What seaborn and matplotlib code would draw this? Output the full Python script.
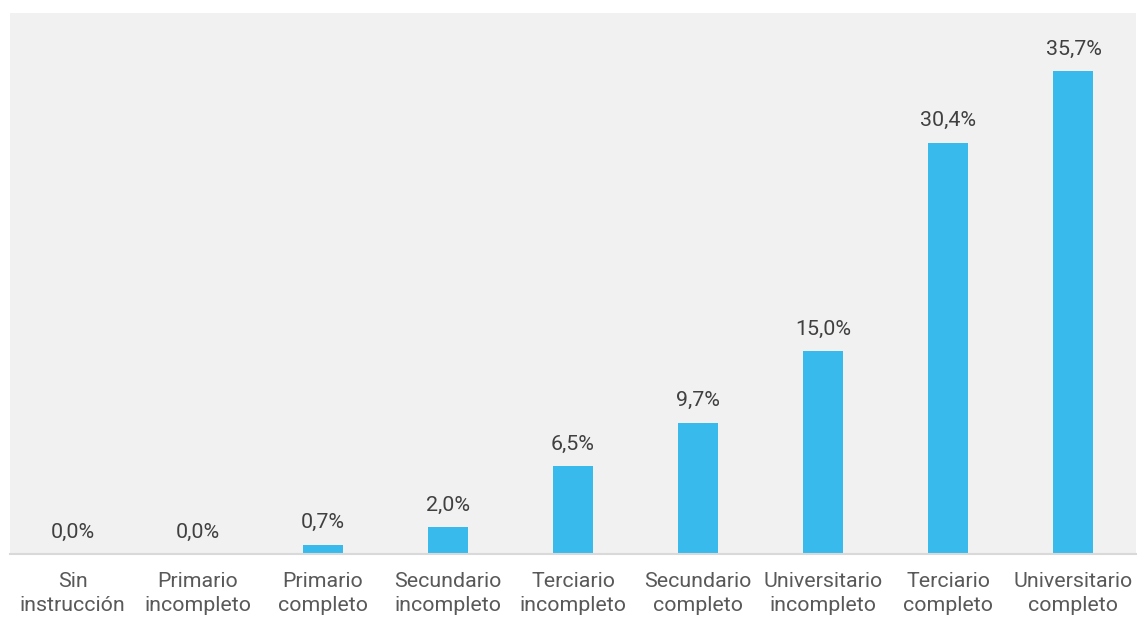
import matplotlib
matplotlib.use("Agg")
import matplotlib.pyplot as plt
import seaborn as sns
import pandas as pd

categories = [
    "Sin\ninstrucción", "Primario\nincompleto", "Primario\ncompleto",
    "Secundario\nincompleto", "Terciario\nincompleto", "Secundario\ncompleto",
    "Universitario\nincompleto", "Terciario\ncompleto", "Universitario\ncompleto",
]
values = [0.0, 0.0, 0.7, 2.0, 6.5, 9.7, 15.0, 30.4, 35.7]

df = pd.DataFrame({"nivel": categories, "pct": values})

sns.set_theme(style="white")
plt.rcParams["font.family"] = ["Roboto", "DejaVu Sans"]

fig = plt.figure(figsize=(11.37, 6.19), dpi=100)
ax = fig.add_axes([10 / 1137, 65 / 619, 1126 / 1137, 541 / 619])
ax.set_facecolor("#f1f1f1")

sns.barplot(data=df, x="nivel", y="pct", color="#38bbec", saturation=1,
            width=0.32, linewidth=0, ax=ax)

for i, v in enumerate(values):
    ax.annotate(f"{v:.1f}%".replace(".", ","), (i, v), xytext=(0, 9),
                textcoords="offset points", ha="center", va="bottom",
                fontsize=15.4, color="#404040")

ax.set_ylim(0, 40)
ax.set_xlim(-0.5, len(categories) - 0.5)
ax.set_xlabel("")
ax.set_ylabel("")
ax.set_yticks([])
for s in ["top", "left", "right"]:
    ax.spines[s].set_visible(False)
ax.spines["bottom"].set_color("#d9d9d9")
ax.spines["bottom"].set_linewidth(1.5)
ax.tick_params(axis="x", length=0, pad=13, labelsize=15.4, labelcolor="#595959")
for t in ax.get_xticklabels():
    t.set_linespacing(1.3)

fig.savefig("out.png", dpi=100)
